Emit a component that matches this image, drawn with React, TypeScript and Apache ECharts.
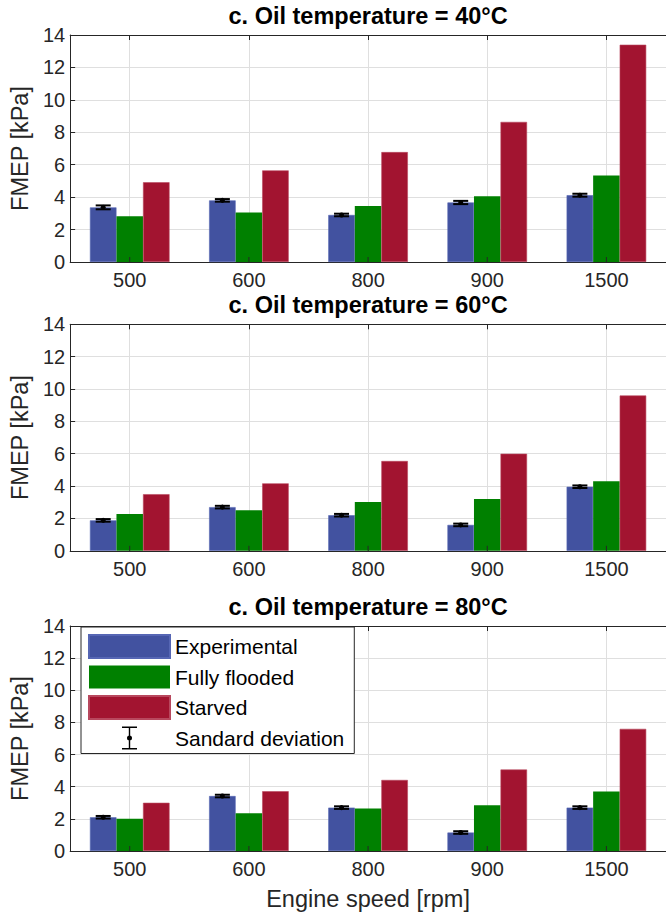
import React, { useEffect, useRef } from 'react';
import * as echarts from 'echarts';

const categories = ['500', '600', '800', '900', '1500'];
const panelTitles = ['c. Oil temperature = 40°C', 'c. Oil temperature = 60°C', 'c. Oil temperature = 80°C'];
const seriesNames = ['Experimental', 'Fully flooded', 'Starved', 'Sandard deviation'];
const yTicks = [0, 14, 2]; // min, max, interval

const exp40 = [3.37, 3.8, 2.9, 3.67, 4.12];
const full40 = [2.82, 3.05, 3.45, 4.05, 5.33];
const starved40 = [4.92, 5.65, 6.78, 8.64, 13.4];
const sd40 = [0.12, 0.08, 0.08, 0.1, 0.09];

const exp60 = [1.88, 2.7, 2.2, 1.6, 3.96];
const full60 = [2.27, 2.5, 3.02, 3.2, 4.3];
const starved60 = [3.5, 4.17, 5.55, 6.0, 9.6];
const sd60 = [0.08, 0.08, 0.08, 0.08, 0.08];

const exp80 = [2.1, 3.42, 2.7, 1.15, 2.7];
const full80 = [2.0, 2.35, 2.65, 2.85, 3.7];
const starved80 = [3.0, 3.72, 4.42, 5.07, 7.6];
const sd80 = [0.08, 0.08, 0.08, 0.08, 0.08];

const panels = [
  { exp: exp40, full: full40, starved: starved40, sd: sd40 },
  { exp: exp60, full: full60, starved: starved60, sd: sd60 },
  { exp: exp80, full: full80, starved: starved80, sd: sd80 },
];

const FONT = "'Liberation Sans', Arial, Helvetica, sans-serif";
const TEXT = '#262626';
const GRIDC = '#dfdfdf';
const BLUE = '#4252A0';
const GREEN = '#008000';
const RED = '#A21430';
const GAP = 0.332;

const gridRects = [
  { top: 35, height: 227 },
  { top: 324.3, height: 226.5 },
  { top: 626, height: 225 },
];

const errIcon =
  'path://M0 0 L0.05 0 L0.05 0.05 Z M81 23 L80.95 23 L80.95 22.95 Z ' +
  'M33 0 L48 0 L48 1.6 L33 1.6 Z M33 21.4 L48 21.4 L48 23 L33 23 Z ' +
  'M39.8 0 L41.2 0 L41.2 23 L39.8 23 Z ' +
  'M38 11.5 A2.5 2.5 0 1 1 43 11.5 A2.5 2.5 0 1 1 38 11.5 Z';

export default function App() {
  const ref = useRef<HTMLDivElement>(null);
  useEffect(() => {
    if (!ref.current) return;
    const chart = echarts.init(ref.current, null, { renderer: 'svg' });

    const grid = gridRects.map((g) => ({ left: 66.6, width: 606, top: g.top, height: g.height }));
    const xAxis: any[] = [];
    const yAxis: any[] = [];
    gridRects.forEach((_, g) => {
      xAxis.push({
        type: 'category',
        gridIndex: g,
        data: categories,
        position: 'bottom',
        axisLine: { show: true, lineStyle: { color: TEXT, width: 1 } },
        axisTick: { show: true, inside: true, alignWithLabel: true, length: 5, lineStyle: { color: TEXT } },
        axisLabel: { fontSize: 20, color: TEXT, fontFamily: FONT, margin: 8 },
        splitLine: { show: true, alignWithLabel: true, lineStyle: { color: GRIDC, width: 1 } },
        name: g === 2 ? 'Engine speed [rpm]' : '',
        nameLocation: 'middle',
        nameGap: 36,
        nameTextStyle: { fontSize: 23.5, color: TEXT, fontFamily: FONT },
      });
    });
    gridRects.forEach((_, g) => {
      xAxis.push({
        type: 'category',
        gridIndex: g,
        data: categories,
        position: 'top',
        axisLine: { show: true, lineStyle: { color: TEXT, width: 1 } },
        axisTick: { show: true, inside: true, alignWithLabel: true, length: 5, lineStyle: { color: TEXT } },
        axisLabel: { show: false },
        splitLine: { show: false },
        name: panelTitles[g],
        nameLocation: 'middle',
        nameGap: 7,
        nameTextStyle: { fontSize: 23.5, fontWeight: 'bold', color: '#000', fontFamily: FONT },
        z: 5,
      });
      yAxis.push({
        type: 'value',
        gridIndex: g,
        min: yTicks[0],
        max: yTicks[1],
        interval: yTicks[2],
        axisLine: { show: true, lineStyle: { color: TEXT, width: 1 } },
        axisTick: { show: true, inside: true, length: 5, lineStyle: { color: TEXT } },
        axisLabel: { fontSize: 20, color: TEXT, fontFamily: FONT, margin: 5 },
        splitLine: { show: true, lineStyle: { color: GRIDC, width: 1 } },
        name: 'FMEP [kPa]',
        nameLocation: 'middle',
        nameGap: 31,
        nameTextStyle: { fontSize: 23.5, color: TEXT, fontFamily: FONT },
      });
    });

    const series: any[] = [];
    panels.forEach((p, g) => {
      const common = { type: 'bar', xAxisIndex: g, yAxisIndex: g, barGap: '0%', barCategoryGap: GAP * 100 + '%', z: 2 };
      series.push({ ...common, name: seriesNames[0], data: p.exp, itemStyle: { color: BLUE, borderColor: '#5666b4', borderWidth: 0.6 } });
      series.push({ ...common, name: seriesNames[1], data: p.full, itemStyle: { color: GREEN } });
      series.push({ ...common, name: seriesNames[2], data: p.starved, itemStyle: { color: RED, borderColor: '#b8485e', borderWidth: 0.6 } });
      series.push({
        type: 'custom',
        name: seriesNames[3],
        xAxisIndex: g,
        yAxisIndex: g,
        z: 4,
        itemStyle: { color: '#000' },
        encode: { x: 0, y: 1 },
        data: p.exp.map((v, i) => [i, v, p.sd[i]]),
        renderItem: (params: any, api: any) => {
          const i = api.value(0);
          const mean = api.value(1);
          const sd = api.value(2);
          const c = api.coord([i, mean]);
          const base = api.coord([i, 0]);
          const band = api.size([1, 0])[0];
          const bw = (band * (1 - GAP)) / 3;
          const x = c[0] - bw;
          const top = api.coord([i, mean + sd])[1];
          const bot = api.coord([i, mean - sd])[1];
          const hw = 7.5;
          const st = { stroke: '#000', lineWidth: 2 };
          return {
            type: 'group',
            children: [
              { type: 'line', shape: { x1: base[0], y1: base[1], x2: base[0], y2: base[1] - 5 }, style: { stroke: TEXT, lineWidth: 1 } },
              { type: 'line', shape: { x1: x, y1: top, x2: x, y2: bot }, style: st },
              { type: 'line', shape: { x1: x - hw, y1: top, x2: x + hw, y2: top }, style: st },
              { type: 'line', shape: { x1: x - hw, y1: bot, x2: x + hw, y2: bot }, style: st },
              { type: 'circle', shape: { cx: x, cy: c[1], r: 2.5 }, style: { fill: '#000' } },
            ],
          };
        },
      });
    });

    chart.setOption({
      animation: false,
      backgroundColor: '#fff',
      grid,
      xAxis,
      yAxis,
      legend: {
        orient: 'vertical',
        left: 81,
        top: 627,
        selectedMode: false,
        backgroundColor: '#fff',
        borderColor: TEXT,
        borderWidth: 1,
        padding: [7, 10, 4, 7],
        itemGap: 6.5,
        itemWidth: 81,
        itemHeight: 23,
        textStyle: { fontSize: 21, color: '#000', fontFamily: FONT },
        data: [
          { name: seriesNames[0], icon: 'rect' },
          { name: seriesNames[1], icon: 'rect' },
          { name: seriesNames[2], icon: 'rect' },
          { name: seriesNames[3], icon: errIcon },
        ],
        z: 10,
      },
      series,
    });
    return () => chart.dispose();
  }, []);
  return <div ref={ref} style={{ position: 'absolute', left: 0, top: 0, width: 666, height: 916 }} />;
}
